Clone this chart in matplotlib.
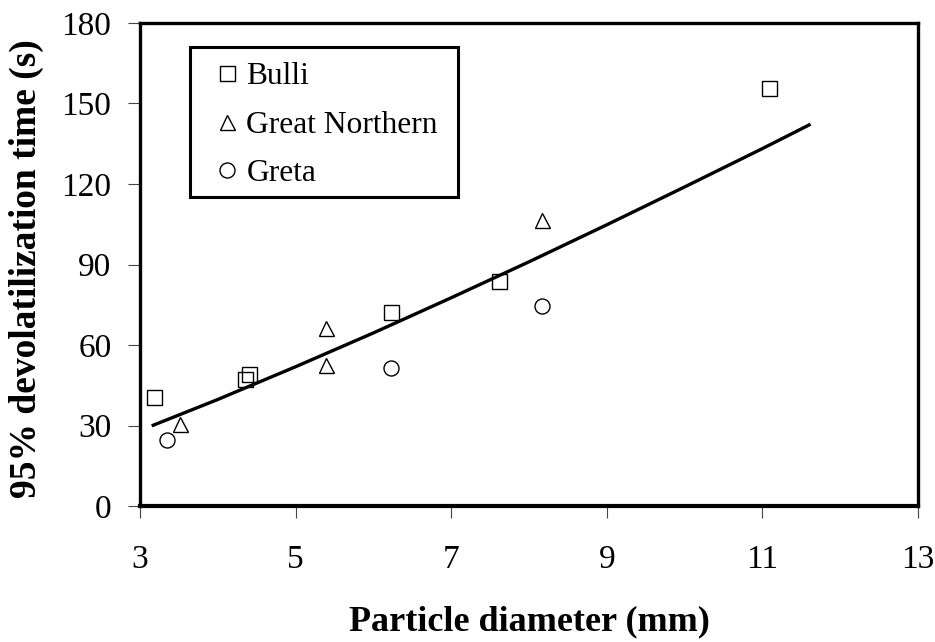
import matplotlib
matplotlib.use("Agg")
import matplotlib.pyplot as plt
from matplotlib.patches import Rectangle

plt.rcParams['font.family'] = ['Liberation Serif', 'DejaVu Serif']

# Data
bulli_x = [3.18, 4.35, 4.40, 6.23, 7.62, 11.08]
bulli_y = [40.6, 47.2, 49.3, 72.3, 83.8, 155.7]
gn_x = [3.52, 5.39, 5.39, 8.17]
gn_y = [30.7, 66.3, 52.6, 106.7]
greta_x = [3.35, 6.23, 8.17]
greta_y = [24.6, 51.4, 74.6]
# Trend curve, read at several points
fit_x = [3.17, 4.0, 5.0, 6.0, 7.0, 8.0, 9.0, 10.0, 11.0, 11.6]
fit_y = [30.1, 39.7, 51.9, 64.5, 77.6, 91.0, 104.8, 118.9, 133.2, 142.0]

xticks = [3, 5, 7, 9, 11, 13]
yticks = [0, 30, 60, 90, 120, 150, 180]

W, H = 935, 642
fig = plt.figure(figsize=(W / 100, H / 100), dpi=100)
ax = fig.add_axes([140 / W, 1 - 506 / H, 778 / W, 483 / H])

ms = 10.8
mew = 1.0
ax.plot(fit_x, fit_y, color='black', lw=2.4, zorder=2)
h1, = ax.plot(bulli_x, bulli_y, ls='none', marker='s', ms=ms, mfc='none', mec='black', mew=mew, label='Bulli', zorder=3)
h2, = ax.plot(gn_x, gn_y, ls='none', marker='^', ms=ms, mfc='none', mec='black', mew=mew, label='Great Northern', zorder=3)
h3, = ax.plot(greta_x, greta_y, ls='none', marker='o', ms=ms, mfc='none', mec='black', mew=mew, label='Greta', zorder=3)

ax.set_xlim(3, 13)
ax.set_ylim(0, 180)
ax.set_xticks(xticks)
ax.set_yticks(yticks)
ax.tick_params(axis='both', direction='out', length=8.6, width=0.8, color='#444444', labelsize=24)
ax.tick_params(axis='x', pad=19)
ax.tick_params(axis='y', pad=12)
for s in ax.spines.values():
    s.set_linewidth(2.4)
    s.set_color('black')
ax.spines['bottom'].set_linewidth(3.0)

ax.set_xlabel('Particle diameter (mm)', fontsize=26, fontweight='bold', labelpad=22)
ax.set_ylabel('95% devolatilization time (s)', fontsize=27, fontweight='bold')
ax.yaxis.set_label_coords(-0.124, 0.492)

# legend box
fig.patches.append(Rectangle((190 / W, 1 - 197 / H), (458 - 190) / W, 150 / H,
                             transform=fig.transFigure, fill=False, ec='black', lw=2.2, zorder=5))
leg = fig.legend(handles=[h1, h2, h3], loc='center left', bbox_to_anchor=(211 / W, 1 - 125 / H),
                 frameon=False, fontsize=22.7, borderpad=0, handlelength=1.0, handletextpad=0.12,
                 labelspacing=0.61, borderaxespad=0)

fig.savefig('out.png', dpi=100)
